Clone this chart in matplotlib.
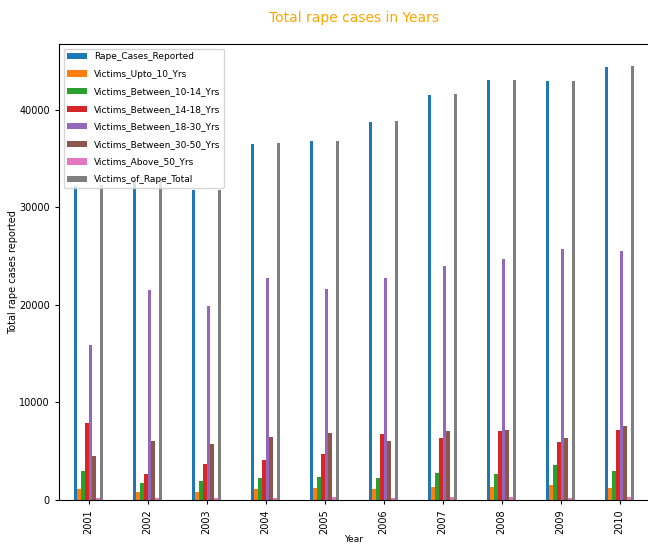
import matplotlib
matplotlib.use("Agg")
import matplotlib.pyplot as plt
import pandas as pd

years = [2001, 2002, 2003, 2004, 2005, 2006, 2007, 2008, 2009, 2010]

rape_cases_reported = [32150, 32800, 31750, 36500, 36750, 38750, 41500, 43000, 42900, 44400]
victims_upto_10 = [1090, 850, 850, 1090, 1190, 1090, 1290, 1290, 1490, 1190]
victims_10_14 = [2930, 1740, 1970, 2280, 2380, 2280, 2790, 2690, 3540, 2930]
victims_14_18 = [7840, 2690, 3640, 4090, 4740, 6780, 6340, 7090, 5930, 7190]
victims_18_30 = [15900, 21550, 19850, 22750, 21650, 22750, 24000, 24650, 25750, 25550]
victims_30_50 = [4500, 6000, 5690, 6450, 6890, 6040, 7090, 7190, 6340, 7630]
victims_above_50 = [240, 240, 240, 240, 340, 240, 340, 340, 240, 340]
victims_total = [32250, 32750, 31750, 36550, 36800, 38800, 41600, 43000, 42900, 44500]

df = pd.DataFrame({
    'Rape_Cases_Reported': rape_cases_reported,
    'Victims_Upto_10_Yrs': victims_upto_10,
    'Victims_Between_10-14_Yrs': victims_10_14,
    'Victims_Between_14-18_Yrs': victims_14_18,
    'Victims_Between_18-30_Yrs': victims_18_30,
    'Victims_Between_30-50_Yrs': victims_30_50,
    'Victims_Above_50_Yrs': victims_above_50,
    'Victims_of_Rape_Total': victims_total,
}, index=pd.Index(years, name='Year'))

fig = plt.figure(figsize=(6.48, 5.46), dpi=100)
ax = fig.add_axes([59 / 648, 46 / 546, 590 / 648, 456 / 546])

df.plot(kind='bar', ax=ax)

ax.set_title("Total rape cases in Years", color='orange', fontsize=10, pad=16)
ax.set_xlabel("Year", fontsize=6.5, labelpad=1)
ax.set_ylabel("Total rape cases reported", fontsize=7, labelpad=1)
ax.tick_params(axis='both', labelsize=7, length=3)
ax.legend(loc='upper left', fontsize=6.5, labelspacing=0.95, handlelength=2.2)

fig.savefig('out.png', dpi=100)
plt.close(fig)
